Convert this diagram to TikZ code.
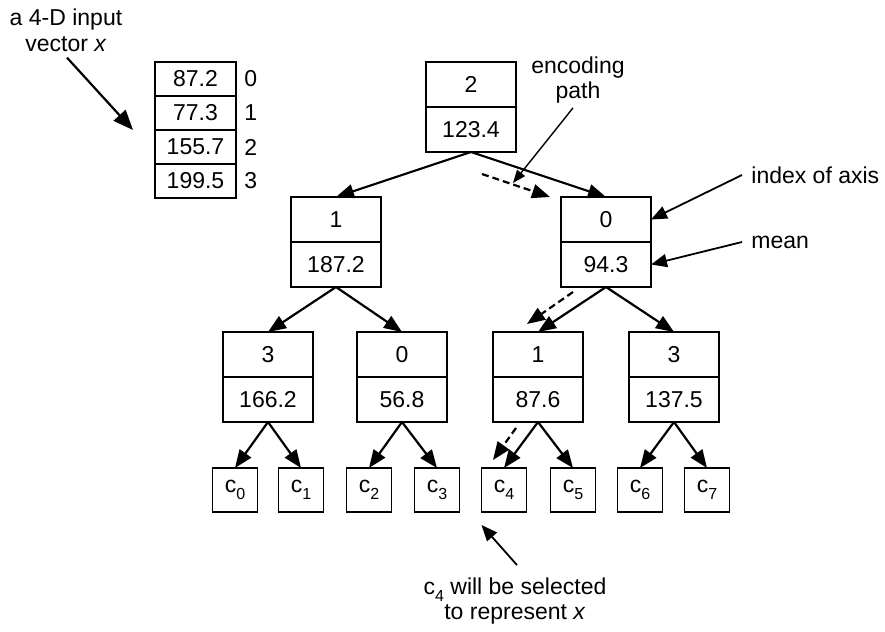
\documentclass[tikz,border=0pt]{standalone}
\usepackage{fontspec}
\setmainfont{Liberation Sans}
\usetikzlibrary{arrows.meta,positioning}

% leaf label with a lowered index
\newcommand{\leafc}[1]{c\raisebox{-.6ex}{\footnotesize #1}}

\begin{document}
\begin{tikzpicture}
          [x = 0.5pt, y = -0.5pt, font = \fontsize{11.5}{12.8}\selectfont,
           cell/.style     = {draw, line width = 0.9pt, outer sep = 0pt, minimum width = 45pt, minimum height = 22.5pt, inner sep = 0pt},
           leaf/.style     = {draw, line width = 0.9pt, outer sep = 0pt, minimum width = 22.5pt, minimum height = 22pt, inner sep = 0pt},
           vcell/.style    = {draw, line width = 0.9pt, outer sep = 0pt, minimum width = 40.5pt, minimum height = 17pt, inner sep = 0pt},
           notetext/.style = {inner sep = 0pt},
           edge/.style     = {line width = 1.1pt, -{Triangle[length = 9pt, width = 7pt]}},
           encstep/.style  = {edge, dash pattern = on 3.5pt off 2pt},
           note/.style     = {line width = 0.9pt, -{Triangle[length = 8pt, width = 6.5pt]}},
           bignote/.style  = {line width = 1.1pt, -{Triangle[length = 10pt, width = 8pt]}},
           thinnote/.style = {line width = 0.7pt, -{Triangle[length = 6.5pt, width = 5pt]}},
          ]
\useasboundingbox (0,0) rectangle (885,632);

% input vector
  \node [vcell] (v0) at (195.5,79) {87.2};
  \node [vcell, below = 0pt of v0] (v1) {77.3};
  \node [vcell, below = 0pt of v1] (v2) {155.7};
  \node [vcell, below = 0pt of v2] (v3) {199.5};
  \node [notetext, right = 4pt of v0] (i0) {0};
  \node [notetext, right = 4pt of v1] (i1) {1};
  \node [notetext, right = 4pt of v2] (i2) {2};
  \node [notetext, right = 4pt of v3] (i3) {3};

% tree: axis index on top, mean below
  \node [cell] (n0a) at (471,84.5) {2};
  \node [cell, below = 0pt of n0a] (n0b) {123.4};

  \node [cell] (n1a) at (336,219.5) {1};
  \node [cell, below = 0pt of n1a] (n1b) {187.2};
  \node [cell] (n2a) at (606,219.5) {0};
  \node [cell, below = 0pt of n2a] (n2b) {94.3};

  \node [cell] (n3a) at (268,354.5) {3};
  \node [cell, below = 0pt of n3a] (n3b) {166.2};
  \node [cell] (n4a) at (402,354.5) {0};
  \node [cell, below = 0pt of n4a] (n4b) {56.8};
  \node [cell] (n5a) at (538,354.5) {1};
  \node [cell, below = 0pt of n5a] (n5b) {87.6};
  \node [cell] (n6a) at (674,354.5) {3};
  \node [cell, below = 0pt of n6a] (n6b) {137.5};

% leaves
  \node [leaf] (c0) at (235,490) {\leafc{0}};
  \node [leaf] (c1) at (301,490) {\leafc{1}};
  \node [leaf] (c2) at (369,490) {\leafc{2}};
  \node [leaf] (c3) at (437,490) {\leafc{3}};
  \node [leaf] (c4) at (504,490) {\leafc{4}};
  \node [leaf] (c5) at (573,490) {\leafc{5}};
  \node [leaf] (c6) at (640,490) {\leafc{6}};
  \node [leaf] (c7) at (707,490) {\leafc{7}};

% tree edges
  \draw [edge] (n0b.south) -- (n1a.north);
  \draw [edge] (n0b.south) -- (n2a.north);
  \draw [edge] (n1b.south) -- (n3a.north);
  \draw [edge] (n1b.south) -- (n4a.north);
  \draw [edge] (n2b.south) -- (n5a.north);
  \draw [edge] (n2b.south) -- (n6a.north);
  \draw [edge] (n3b.south) -- (c0.north);
  \draw [edge] (n3b.south) -- (c1.north);
  \draw [edge] (n4b.south) -- (c2.north);
  \draw [edge] (n4b.south) -- (c3.north);
  \draw [edge] (n5b.south) -- (c4.north);
  \draw [edge] (n5b.south) -- (c5.north);
  \draw [edge] (n6b.south) -- (c6.north);
  \draw [edge] (n6b.south) -- (c7.north);

% encoding path of x
  \coordinate (e1s) at (482,174);  \coordinate (e1t) at (550,197);
  \coordinate (e2s) at (573,292);  \coordinate (e2t) at (527,324);
  \coordinate (e3s) at (516,428);  \coordinate (e3t) at (493,460);
  \draw [encstep] (e1s) -- (e1t);
  \draw [encstep] (e2s) -- (e2t);
  \draw [encstep] (e3s) -- (e3t);

% annotations
  \node [notetext, align = center] (vecnote) at (66,30) {a 4-D input\\vector \textit{x}};
  \node [notetext, align = center] (encnote) at (578,80) {encoding\\path};
  \node [notetext, anchor = west] (axisnote) at (751,175) {index of axis};
  \node [notetext, anchor = west] (meannote) at (751,242) {mean};
  \node [notetext, align = center] (c4note) at (515,601) {\leafc{4} will be selected\\to represent \textit{x}};

  \coordinate (enctip) at (513,183);
  \draw [bignote] ([shift = {(0.5pt,-3pt)}]vecnote.south) -- ([xshift = -11pt]v1.south west);
  \draw [thinnote] ([shift = {(-2.5pt,-2pt)}]encnote.south) -- (enctip);
  \draw [note] ([xshift = -4.5pt]axisnote.west) -- (n2a.east);
  \draw [note] ([xshift = -4.5pt]meannote.west) -- (n2b.east);
  \draw [note] ([shift = {(1pt,6pt)}]c4note.north) -- ([yshift = -6.5pt]c4.south west);

\end{tikzpicture}
\end{document}
